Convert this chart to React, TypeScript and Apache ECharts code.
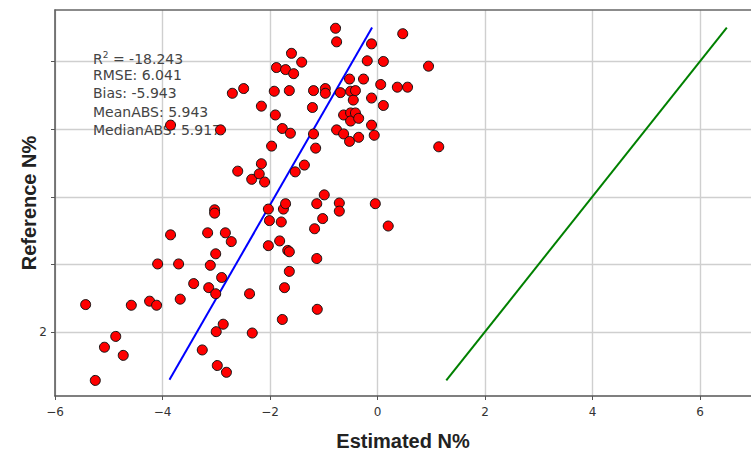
import React, { useEffect, useRef } from "react";
import * as echarts from "echarts";

// Estimated N% (x) and Reference N% (y) for each sample
const estN = [
  -5.43, -5.25, -5.08, -4.87, -4.73, -4.58, -4.24, -4.11, -4.09, -3.85,
  -3.70, -3.67, -3.85, -3.42, -3.26, -3.16, -3.14, -3.11, -3.03, -3.03,
  -3.01, -3.01, -3.00, -2.98, -2.92, -2.90, -2.87, -2.83, -2.81, -2.72,
  -2.70, -2.60, -2.49, -2.38, -2.34, -2.33, -2.20, -2.16, -2.16, -2.10,
  -2.03, -2.03, -2.01, -1.97, -1.92, -1.90, -1.88, -1.82, -1.79, -1.77,
  -1.77, -1.75, -1.71, -1.71, -1.73, -1.67, -1.64, -1.64, -1.64, -1.62,
  -1.60, -1.56, -1.53, -1.41, -1.36, -1.21, -1.19, -1.19, -1.15, -1.17,
  -1.13, -1.13, -1.12, -1.02, -0.99, -0.97, -0.97, -0.78, -0.76, -0.76,
  -0.71, -0.71, -0.69, -0.63, -0.63, -0.52, -0.52, -0.50, -0.50, -0.50,
  -0.45, -0.41, -0.41, -0.35, -0.35, -0.26, -0.19, -0.11, -0.11, -0.11,
  -0.06, -0.04, 0.06, 0.11, 0.11, 0.20, 0.37, 0.47, 0.56, 0.95, 1.14,
];
const refN = [
  2.41, 1.29, 1.78, 1.94, 1.66, 2.40, 2.46, 2.40, 3.01, 3.44,
  3.01, 2.49, 5.06, 2.72, 1.74, 3.47, 2.66, 2.99, 3.81, 3.76,
  3.16, 2.57, 2.01, 1.51, 4.99, 2.81, 2.12, 3.47, 1.41, 3.34,
  5.53, 4.38, 5.60, 2.57, 4.26, 1.99, 4.34, 4.49, 5.34, 4.22,
  3.82, 3.28, 3.65, 4.75, 5.56, 5.21, 5.91, 3.35, 3.63, 5.01,
  2.19, 3.82, 3.90, 5.88, 2.66, 3.21, 3.19, 2.90, 5.57, 4.94,
  6.12, 5.82, 4.37, 5.99, 4.47, 5.32, 5.57, 4.93, 4.72, 3.53,
  3.90, 3.09, 2.34, 3.68, 4.03, 5.60, 5.53, 6.49, 6.29, 4.99,
  3.91, 3.79, 5.54, 5.21, 4.93, 5.74, 4.82, 5.56, 5.24, 5.12,
  5.43, 5.57, 5.24, 5.16, 4.88, 5.74, 6.01, 6.26, 5.46, 5.06,
  4.91, 3.90, 5.66, 6.00, 5.35, 3.57, 5.62, 6.41, 5.62, 5.93, 4.74,
];

// Fitted regression line (blue) and 1:1 line (green)
const fitX = [-3.87, -0.1];
const fitY = [1.3, 6.5];
const oneToOneX = [1.28, 6.5];
const oneToOneY = [1.29, 6.5];

// Tick values
const xTicks = [-6, -4, -2, 0, 2, 4, 6];
const yTicks = [2, 3, 4, 5, 6];
const yLabeled = [2];

// Statistics text
const statLines = [
  "R{sup|2} = -18.243",
  "RMSE: 6.041",
  "Bias: -5.943",
  "MeanABS: 5.943",
  "MedianABS: 5.917",
];

const X_MIN = -6;
const X_MAX = 6.95;
const Y_MIN = 1.06;
const Y_MAX = 6.76;

export default function App() {
  const ref = useRef<HTMLDivElement>(null);

  useEffect(() => {
    if (!ref.current) return;
    const chart = echarts.init(ref.current, undefined, { renderer: "svg" });

    const points = estN.map((x, i) => [x, refN[i]]);
    const fitLine = fitX.map((x, i) => [x, fitY[i]]);
    const oneLine = oneToOneX.map((x, i) => [x, oneToOneY[i]]);

    const gridLine = { show: true, lineStyle: { color: "#cfcfcf", width: 1.4 } };

    chart.setOption({
      animation: false,
      backgroundColor: "#ffffff",
      grid: { left: 55, right: 0, top: 10, bottom: 49, containLabel: false },
      xAxis: [
        {
          type: "value",
          min: X_MIN,
          max: X_MAX,
          interval: 2,
          name: "Estimated N%",
          nameLocation: "middle",
          nameGap: 35,
          nameTextStyle: {
            fontFamily: "Liberation Sans",
            fontWeight: "bold",
            fontSize: 20,
            color: "#222",
          },
          axisLine: { show: true, onZero: false, lineStyle: { color: "#555", width: 1.5 } },
          axisTick: {
            show: true,
            inside: false,
            length: 4,
            customValues: xTicks,
            lineStyle: { color: "#555" },
          },
          axisLabel: {
            show: true,
            margin: 10,
            customValues: xTicks,
            fontFamily: "DejaVu Sans",
            fontSize: 12,
            color: "#333",
            formatter: (v: number) =>
              xTicks.includes(v) ? (v < 0 ? "\u2212" + Math.abs(v) : String(v)) : "",
          },
          splitLine: gridLine,
        },
        {
          type: "value",
          position: "top",
          min: X_MIN,
          max: X_MAX,
          axisLine: { show: true, onZero: false, lineStyle: { color: "#666", width: 1.5 } },
          axisTick: { show: false },
          axisLabel: { show: false },
          splitLine: { show: false },
        },
      ],
      yAxis: {
        type: "value",
        min: Y_MIN,
        max: Y_MAX,
        splitNumber: 5,
        name: "Reference N%",
        nameLocation: "middle",
        nameGap: 16,
        nameMoveOverlap: false,
        nameRotate: 90,
        nameTextStyle: {
          fontFamily: "Liberation Sans",
          fontWeight: "bold",
          fontSize: 20,
          color: "#222",
        },
        axisLine: { show: true, onZero: false, lineStyle: { color: "#555", width: 1.5 } },
        axisTick: {
          show: true,
          inside: false,
          length: 4,
          customValues: yTicks,
          lineStyle: { color: "#555" },
        },
        axisLabel: {
          show: true,
          margin: 8,
          customValues: yLabeled,
          fontFamily: "DejaVu Sans",
          fontSize: 12,
          color: "#333",
          formatter: (v: number) => (yLabeled.includes(v) ? String(v) : ""),
        },
        splitLine: gridLine,
      },
      graphic: statLines.map((line, i) => ({
        type: "text",
        left: 93,
        top: 50 + i * 18.2,
        z: 5,
        style: {
          text: line,
          fontFamily: "DejaVu Sans",
          fontSize: 14,
          fill: "#444",
          rich: {
            sup: {
              fontFamily: "DejaVu Sans",
              fontSize: 9,
              fill: "#444",
              verticalAlign: "top",
              padding: [0, 0, 8, 0],
            },
          },
        },
      })),
      series: [
        {
          type: "line",
          data: fitLine,
          symbol: "none",
          lineStyle: { color: "#0000ff", width: 2 },
          z: 3,
        },
        {
          type: "line",
          data: oneLine,
          symbol: "none",
          lineStyle: { color: "#008000", width: 2 },
          z: 3,
        },
        {
          type: "scatter",
          data: points,
          symbol: "circle",
          symbolSize: 10,
          itemStyle: { color: "#ff0000", borderColor: "#111", borderWidth: 1, opacity: 1 },
          z: 6,
        },
      ],
    });

    return () => chart.dispose();
  }, []);

  return (
    <div
      ref={ref}
      style={{ position: "fixed", left: 0, top: 0, width: 751, height: 456 }}
    />
  );
}
